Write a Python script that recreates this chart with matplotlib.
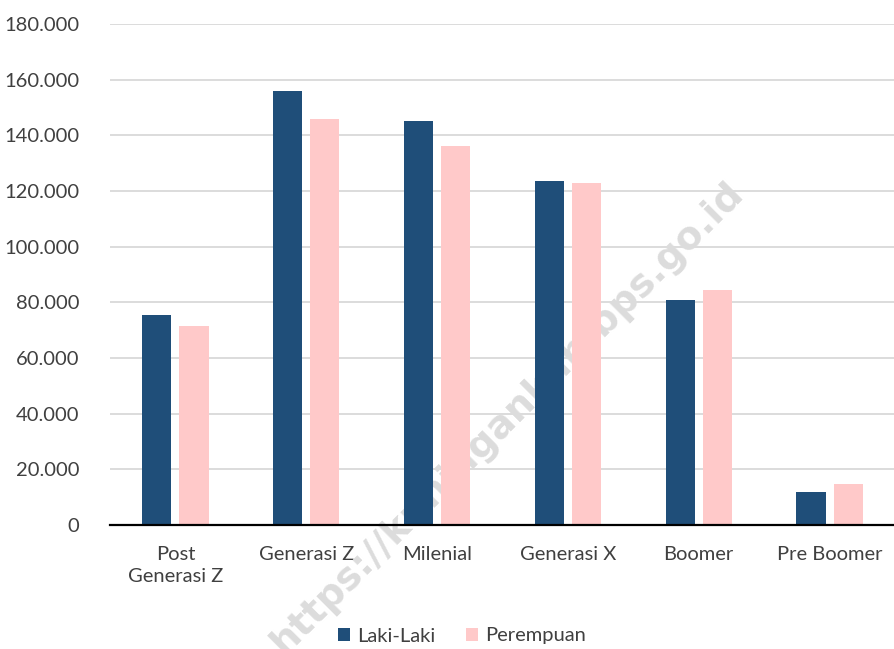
import matplotlib
matplotlib.use("Agg")
import matplotlib.pyplot as plt
import numpy as np

categories = ["Post\nGenerasi Z", "Generasi Z", "Milenial", "Generasi X", "Boomer", "Pre Boomer"]
laki_laki = [75300, 156100, 145200, 123500, 80900, 11800]
perempuan = [71600, 145700, 136300, 122800, 84500, 14600]
yticks = [0, 20000, 40000, 60000, 80000, 100000, 120000, 140000, 160000, 180000]
ytick_labels = ["0", "20.000", "40.000", "60.000", "80.000", "100.000", "120.000", "140.000", "160.000", "180.000"]
series_names = ["Laki-Laki", "Perempuan"]
watermark = "https://kuningankab.bps.go.id"

plt.rcParams['font.family'] = ['Lato', 'DejaVu Sans']
text_color = '#404040'
c_blue = '#1F4E79'
c_pink = '#FFC9C9'

fig = plt.figure(figsize=(8.95, 6.49), dpi=100)
ax = fig.add_axes([110/895, 1-525/649, 785/895, (525-24)/649])

x = np.arange(len(categories))
w = 0.222
off = 0.142
b1 = ax.bar(x - off, laki_laki, width=w, color=c_blue, zorder=3, label=series_names[0])
b2 = ax.bar(x + off, perempuan, width=w, color=c_pink, zorder=3, label=series_names[1])

ax.set_xlim(-0.5, len(categories) - 0.5)
ax.set_ylim(0, 180000)
ax.set_yticks(yticks)
ax.set_yticklabels(ytick_labels)
ax.set_xticks(x)
ax.set_xticklabels(categories, linespacing=1.35)
ax.tick_params(axis='y', length=0, pad=22, labelsize=14.5, labelcolor=text_color)
ax.tick_params(axis='x', length=0, pad=15, labelsize=14.5, labelcolor=text_color)
for lbl in ax.get_xticklabels():
    lbl.set_verticalalignment('top')

ax.grid(axis='y', color='#D9D9D9', linewidth=1.3, zorder=0)
ax.set_axisbelow(True)
for s in ['top', 'right', 'left']:
    ax.spines[s].set_visible(False)
ax.spines['bottom'].set_color('black')
ax.spines['bottom'].set_linewidth(1.6)
ax.spines['bottom'].set_zorder(4)

ax.text(508/895, 1-418/649, watermark, transform=fig.transFigure, rotation=45,
        rotation_mode='anchor', ha='center', va='center', fontsize=27.5,
        fontweight='bold', family='DejaVu Sans', color='#DCDCDC', zorder=2, clip_on=False)

leg = fig.legend(handles=[b1, b2], loc='center', bbox_to_anchor=(462/895, 1-636/649),
                 ncol=2, frameon=False, fontsize=14.5, handlelength=0.6, handleheight=0.6,
                 handletextpad=0.35, columnspacing=1.5)
for t in leg.get_texts():
    t.set_color(text_color)

fig.savefig("out.png", dpi=100, facecolor='white')
